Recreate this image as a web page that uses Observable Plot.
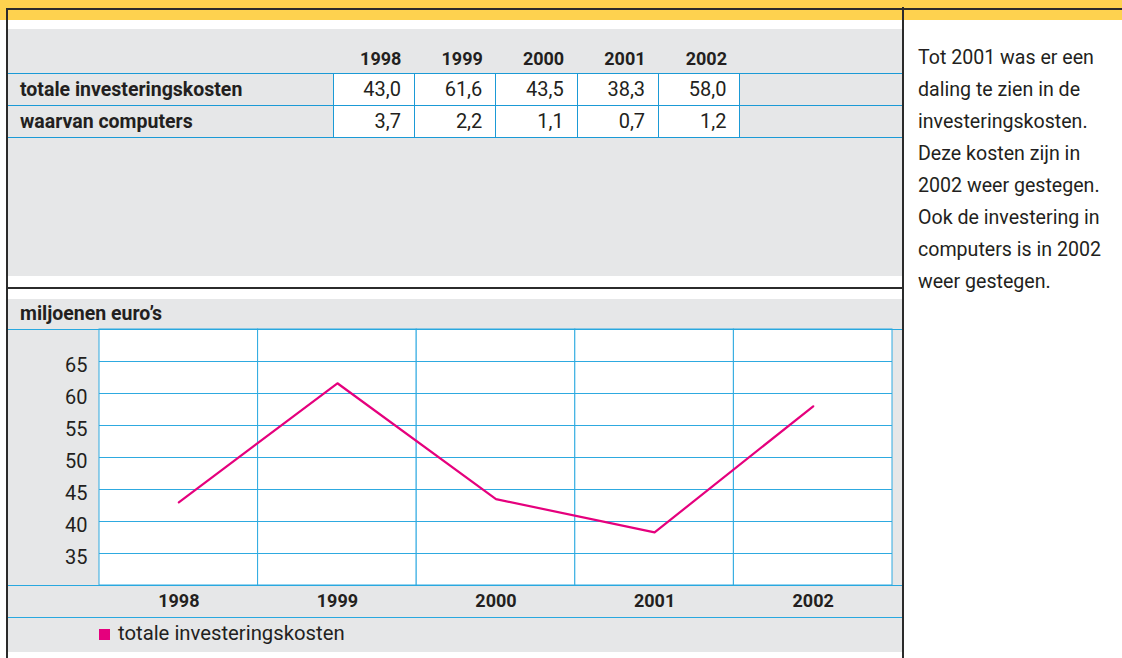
<!DOCTYPE html>
<html>
<head>
<meta charset="utf-8">
<script src="https://cdn.jsdelivr.net/npm/d3@7"></script>
<script src="https://cdn.jsdelivr.net/npm/@observablehq/plot@0.6"></script>
<style>
  html, body { margin: 0; padding: 0; background: #fff; }
  body { font-family: Roboto, "Noto Sans", sans-serif; color: #231f20; }
  #root { position: relative; width: 1122px; height: 658px; overflow: hidden; }
  .abs { position: absolute; }
  .gray { background: #e6e7e8; }
  .dark { background: #2b2b2b; }
  table { border-collapse: collapse; table-layout: fixed; width: 894px; position: absolute; left: 0; top: 0; }
  td { padding: 0; white-space: nowrap; overflow: visible; }
  thead td { height: 44px; vertical-align: bottom; padding-bottom: 4px; line-height: 20px; font-size: 18px; font-weight: 700; box-sizing: border-box; }
  tbody td { height: 32px; line-height: 31px; font-size: 20px; border-top: 1px solid #1b9ad6; border-bottom: 1px solid #1b9ad6; box-sizing: border-box; }
  td.num { text-align: right; padding-right: 13px; }
  tbody td.num { background: #fff; border-left: 1px solid #1b9ad6; border-right: 1px solid #1b9ad6; }
  td.lab { padding-left: 12px; font-weight: 700; font-size: 19.5px; }
  .hline { position: absolute; left: 0; width: 894px; height: 1px; background: #29a8df; }
  #note { left: 918px; top: 42px; font-size: 19.6px; line-height: 32px; }
</style>
</head>
<body>
<div id="root">
  <div class="abs" style="left:0;top:0;width:1122px;height:20px;background:#fed24f"></div>
  <div class="abs dark" style="left:6px;top:8px;width:1116px;height:2px"></div>
  <div class="abs gray" id="tableBlock" style="left:8px;top:29px;width:894px;height:247px"></div>
  <div class="abs dark" style="left:8px;top:287px;width:895px;height:2px"></div>
  <div class="abs gray" id="chartBlock" style="left:8px;top:299px;width:894px;height:353px">
    <div class="abs" id="unit" style="left:12px;top:0;line-height:30px;font-size:19.5px;font-weight:700"></div>
    <div class="abs" id="chart" style="left:0;top:30px"></div>
    <div class="hline" style="top:30px"></div>
    <div class="hline" style="top:286px"></div>
    <div class="hline" style="top:318px"></div>
    <div class="abs" id="legend" style="left:0;top:318px;width:894px;height:35px"></div>
  </div>
  <div class="abs dark" style="left:6px;top:8px;width:2px;height:650px"></div>
  <div class="abs dark" style="left:902px;top:7px;width:2px;height:651px"></div>
  <div class="abs" id="note"></div>
</div>
<script>
// ---- data ----
const years = ["1998", "1999", "2000", "2001", "2002"];
const rowLabels = ["totale investeringskosten", "waarvan computers"];
const totaleKosten = [43.0, 61.6, 43.5, 38.3, 58.0];
const computers = [3.7, 2.2, 1.1, 0.7, 1.2];
const yTicks = [35, 40, 45, 50, 55, 60, 65];
const unitLabel = "miljoenen euro’s";
const seriesName = "totale investeringskosten";
const noteLines = [
  "Tot 2001 was er een",
  "daling te zien in de",
  "investeringskosten.",
  "Deze kosten zijn in",
  "2002 weer gestegen.",
  "Ook de investering in",
  "computers is in 2002",
  "weer gestegen."
];

// ---- styles ----
const pink = "#e5007d";
const gridBlue = "#2eaae0";
const yDomain = [30, 70];

const fmt = v => d3.format(".1f")(v).replace(".", ",");

// ---- table ----
const tbl = document.createElement("table");
const colg = document.createElement("colgroup");
[325, 81.4, 81.4, 81.4, 81.4, 81.4, 162].forEach(w => {
  const c = document.createElement("col"); c.style.width = w + "px"; colg.appendChild(c);
});
tbl.appendChild(colg);
const thead = document.createElement("thead");
const hr = document.createElement("tr");
hr.appendChild(document.createElement("td"));
years.forEach(y => { const td = document.createElement("td"); td.className = "num"; td.textContent = y; hr.appendChild(td); });
hr.appendChild(document.createElement("td"));
thead.appendChild(hr);
tbl.appendChild(thead);
const tbody = document.createElement("tbody");
[totaleKosten, computers].forEach((vals, r) => {
  const tr = document.createElement("tr");
  const lab = document.createElement("td"); lab.className = "lab"; lab.textContent = rowLabels[r]; tr.appendChild(lab);
  vals.forEach(v => { const td = document.createElement("td"); td.className = "num"; td.textContent = fmt(v); tr.appendChild(td); });
  tr.appendChild(document.createElement("td"));
  tbody.appendChild(tr);
});
tbl.appendChild(tbody);
document.getElementById("tableBlock").appendChild(tbl);

// ---- texts ----
document.getElementById("unit").textContent = unitLabel;
document.getElementById("note").innerHTML = noteLines.map(l => `<div>${l}</div>`).join("");

// ---- chart ----
const rows = years.map((y, i) => ({year: y, value: totaleKosten[i]}));
const chart = Plot.plot({
  width: 894,
  height: 288,
  marginLeft: 91,
  marginRight: 10,
  marginTop: 0,
  marginBottom: 32,
  style: {background: "transparent", fontFamily: "Roboto, sans-serif", color: "#231f20", overflow: "visible"},
  x: {type: "band", domain: years, padding: 0, round: false, label: null, axis: null},
  y: {domain: yDomain, label: null, axis: null},
  marks: [
    Plot.barY(years, {x: d => d, y1: yDomain[0], y2: yDomain[1], fill: "white", stroke: gridBlue, strokeWidth: 1}),
    Plot.ruleY(yTicks, {stroke: gridBlue, strokeWidth: 1}),
    Plot.line(rows, {x: "year", y: "value", stroke: pink, strokeWidth: 2.2}),
    Plot.axisX({tickSize: 0, tickPadding: 9, fontSize: 18, fontWeight: "bold", label: null}),
    Plot.axisY(yTicks, {tickSize: 0, tickPadding: 12, fontSize: 20, dy: 4, label: null})
  ]
});
document.getElementById("chart").appendChild(chart);

// ---- legend ----
const leg = document.getElementById("legend");
leg.innerHTML = `<div class="abs" style="left:91px;top:12px;width:11px;height:11px;background:${pink}"></div>
<div class="abs" style="left:110px;top:6px;font-size:20.3px;line-height:20px">${seriesName}</div>`;
</script>
</body>
</html>
